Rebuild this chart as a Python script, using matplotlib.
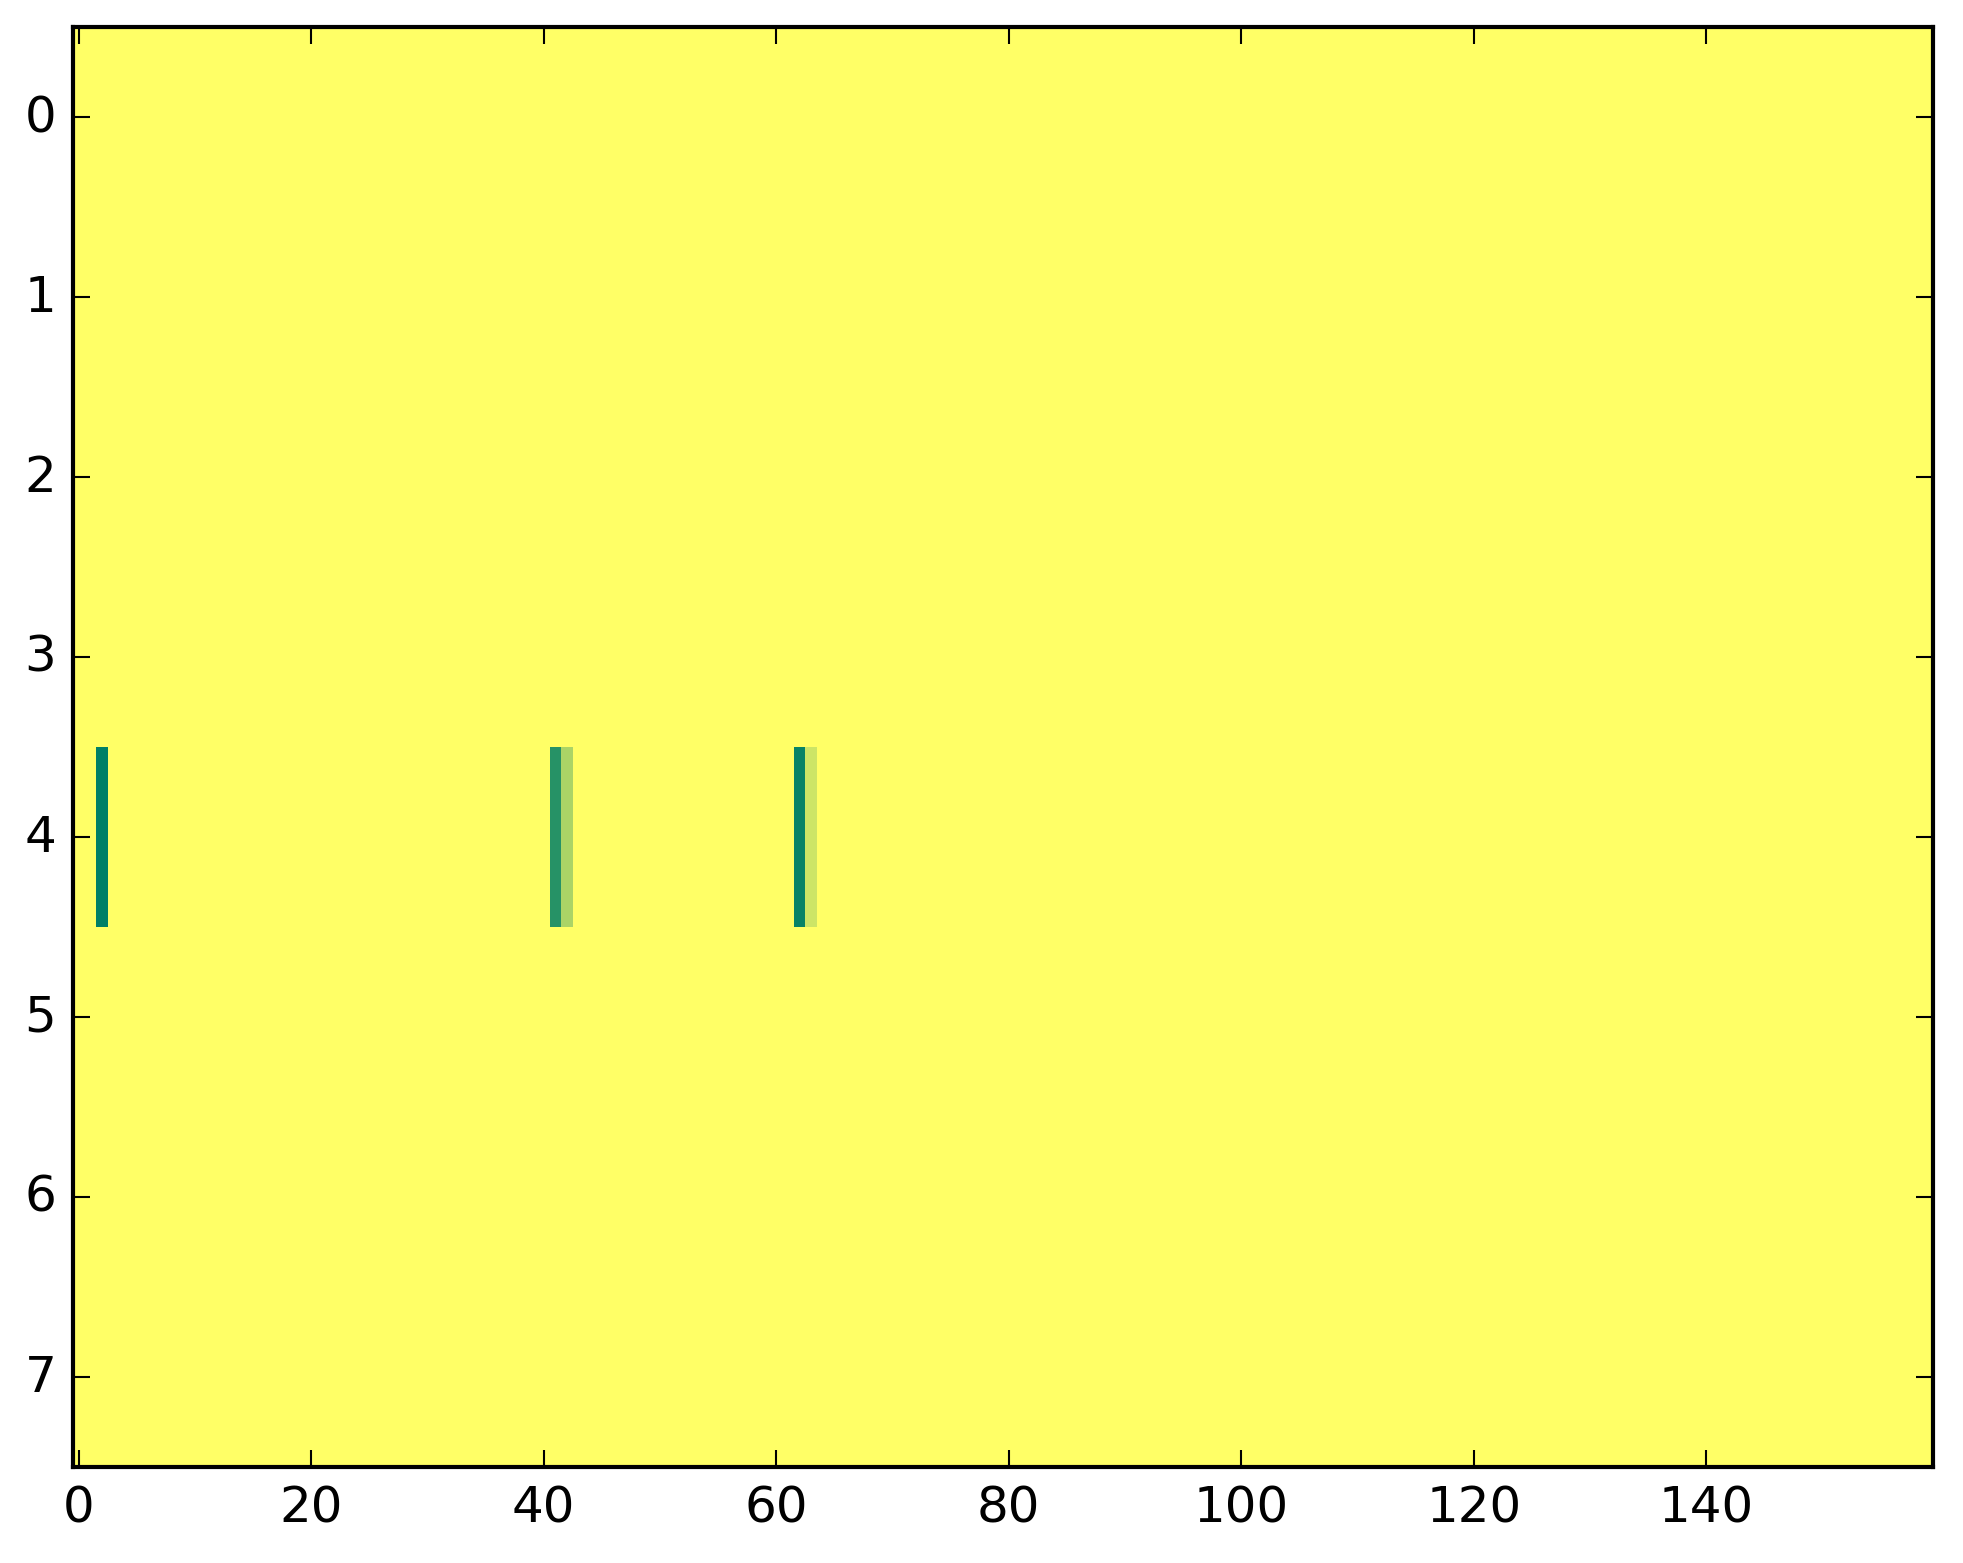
import numpy as np
import matplotlib
matplotlib.use("Agg")
import matplotlib.pyplot as plt

plt.style.use('classic')

n_rows = 8
n_cols = 160
fill_value = 1.0
# special cells: (row, col, value)
cell_rows = [4, 4, 4, 4, 4]
cell_cols = [2, 41, 42, 62, 63]
cell_vals = [0.0, 0.15, 0.67, 0.03, 0.80]

data = np.full((n_rows, n_cols), fill_value)
for r, c, v in zip(cell_rows, cell_cols, cell_vals):
    data[r, c] = v

fig = plt.figure(figsize=(1963/300, 1564/300), dpi=300)
ax = fig.add_axes([73/1963, 1-1468/1564, (1933-73)/1963, (1468-28)/1564])
ax.imshow(data, cmap='summer', vmin=0, vmax=1, aspect='auto', interpolation='nearest')
ax.set_xticks(np.arange(0, 160, 20))
ax.set_yticks(np.arange(0, 8))
ax.set_xlim(-0.5, n_cols - 0.5)
ax.set_ylim(n_rows - 0.5, -0.5)
fig.savefig('out.png', dpi=300)
